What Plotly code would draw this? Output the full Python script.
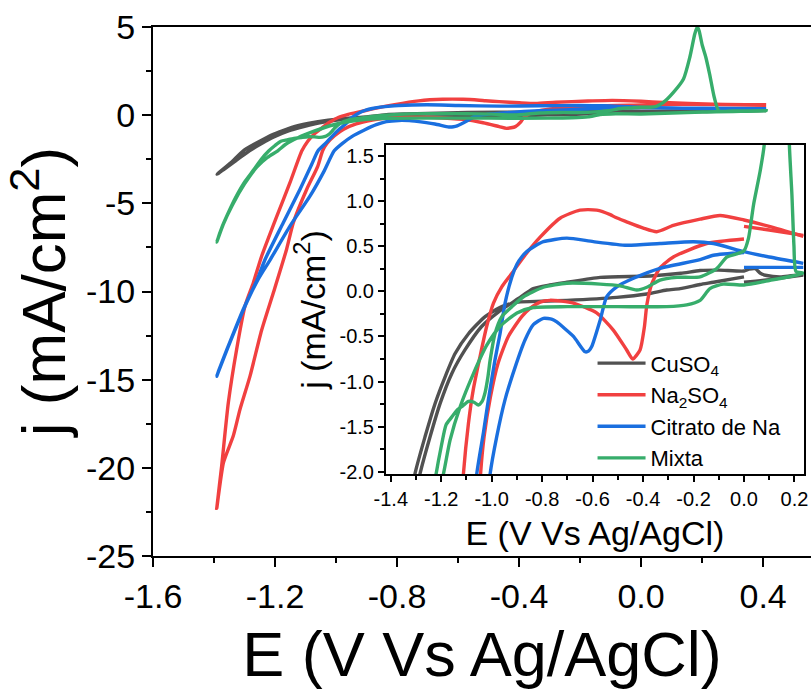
import plotly.graph_objects as go

# ---------------- data (E in V vs Ag/AgCl, j in mA/cm2) ----------------
# Shared loop for each series: from E=0 on the upper branch, down to the
# cathodic tip, and back along the lower branch to E=0.
cu_loop_E = [0.0, -0.1, -0.174, -0.25, -0.372, -0.57, -0.702, -0.77, -0.835, -0.894, -0.974, -1.04, -1.106, -1.158, -1.204, -1.244, -1.284, -1.33, -1.39,
             -1.345, -1.304, -1.264, -1.224, -1.185, -1.145, -1.092, -1.026, -0.96, -0.894, -0.8, -0.702, -0.504, -0.385, -0.306, -0.253, -0.174, -0.121, 0.0]
cu_loop_j = [0.225, 0.235, 0.23, 0.2, 0.17, 0.155, 0.1, 0.07, 0.03, -0.08, -0.23, -0.39, -0.65, -0.91, -1.24, -1.61, -2.02, -2.6, -3.35,
             -2.7, -2.02, -1.61, -1.24, -0.95, -0.69, -0.47, -0.28, -0.17, -0.12, -0.11, -0.1, -0.067, -0.03, 0.014, 0.03, 0.075, 0.1, 0.16]

na_loop_E = [0.0, -0.095, -0.174, -0.28, -0.346, -0.399, -0.465, -0.51, -0.53, -0.584, -0.65, -0.729, -0.808, -0.868, -0.92, -0.96, -0.993, -1.02, -1.046, -1.073, -1.092, -1.112, -1.151, -1.194, -1.244, -1.271, -1.298, -1.326, -1.353, -1.375, -1.391,
             -1.369, -1.337, -1.315, -1.282, -1.244, -1.206, -1.162, -1.14, -1.096, -1.06, -1.044, -1.03, -1.005, -0.975, -0.934, -0.881, -0.848, -0.808, -0.769, -0.676, -0.584, -0.518, -0.465, -0.441, -0.412, -0.395, -0.385, -0.366, -0.333, -0.28, -0.148, 0.0]
na_loop_j = [0.79, 0.84, 0.8, 0.73, 0.66, 0.7, 0.77, 0.82, 0.85, 0.9, 0.9, 0.81, 0.6, 0.4, 0.2, 0.05, -0.13, -0.39, -0.72, -1.09, -1.46, -2.02, -3.83, -5.72, -8.0, -9.5, -10.8, -13.3, -16.3, -19.9, -22.3,
             -19.7, -18.2, -16.7, -14.8, -12.2, -10.1, -7.6, -6.1, -4.2, -2.9, -2.02, -1.61, -1.17, -0.8, -0.5, -0.28, -0.19, -0.12, -0.1, -0.13, -0.24, -0.43, -0.65, -0.75, -0.65, -0.4, -0.15, 0.08, 0.26, 0.38, 0.53, 0.58]

ci_loop_E = [0.0, -0.121, -0.2, -0.333, -0.465, -0.597, -0.702, -0.795, -0.83, -0.861, -0.881, -0.9, -0.92, -0.947, -0.967, -0.987, -1.013, -1.033, -1.059, -1.08, -1.118, -1.173, -1.233, -1.26, -1.304, -1.358, -1.385, -1.391,
             -1.38, -1.355, -1.3, -1.255, -1.216, -1.151, -1.085, -1.04, -1.006, -0.98, -0.947, -0.907, -0.868, -0.835, -0.795, -0.76, -0.742, -0.676, -0.63, -0.615, -0.603, -0.57, -0.544, -0.504, -0.438, -0.333, -0.174, -0.121, 0.0]
ci_loop_j = [0.44, 0.53, 0.55, 0.53, 0.51, 0.55, 0.59, 0.55, 0.5, 0.44, 0.38, 0.3, 0.16, -0.13, -0.47, -0.76, -1.2, -1.57, -2.02, -2.8, -4.2, -6.1, -8.2, -9.4, -11.0, -13.3, -14.5, -14.8,
             -14.3, -13.2, -10.9, -9.3, -8.2, -6.29, -4.58, -3.2, -2.02, -1.61, -1.2, -0.84, -0.54, -0.37, -0.3, -0.31, -0.34, -0.5, -0.67, -0.66, -0.61, -0.32, -0.06, 0.05, 0.144, 0.255, 0.35, 0.4, 0.43]

mx_loop_E = [0.0, -0.035, -0.068, -0.107, -0.174, -0.266, -0.333, -0.385, -0.425, -0.491, -0.57, -0.702, -0.795, -0.874, -0.92, -0.96, -0.987, -1.006, -1.015, -1.026, -1.038, -1.053, -1.07, -1.092, -1.115, -1.138, -1.16, -1.181, -1.2, -1.22, -1.245, -1.27, -1.3, -1.33, -1.358, -1.375, -1.391,
             -1.37, -1.34, -1.3, -1.26, -1.225, -1.191, -1.165, -1.125, -1.072, -1.02, -0.967, -0.9, -0.835, -0.7, -0.5, -0.306, -0.227, -0.174, -0.135, -0.083, 0.0]
mx_loop_j = [0.45, 0.41, 0.38, 0.255, 0.16, 0.155, 0.125, 0.045, 0.014, 0.06, 0.08, 0.09, 0.045, -0.06, -0.17, -0.28, -0.47, -0.76, -0.95, -1.12, -1.22, -1.26, -1.23, -1.22, -1.27, -1.32, -1.4, -1.48, -1.72, -2.02, -2.5, -3.1, -3.8, -4.7, -5.72, -6.4, -7.2,
             -6.2, -5.1, -3.9, -2.95, -2.4, -2.02, -1.65, -1.28, -0.91, -0.6, -0.39, -0.24, -0.18, -0.17, -0.17, -0.17, -0.15, -0.1, 0.03, 0.08, 0.07]

# Anodic ends (E > 0) as drawn in the main plot
cu_main_up_E = [0.41, 0.3, 0.2, 0.1];  cu_main_up_j = [0.28, 0.26, 0.24, 0.235]
cu_main_lo_E = [0.2, 0.41];            cu_main_lo_j = [0.2, 0.26]
na_main_up_E = [0.41, 0.237, 0.073];   na_main_up_j = [0.59, 0.62, 0.72]
na_main_lo_E = [0.1, 0.25, 0.41];      na_main_lo_j = [0.62, 0.6, 0.56]
ci_main_up_E = [0.41, 0.2];            ci_main_up_j = [0.36, 0.4]
ci_main_lo_E = [0.2, 0.41];            ci_main_lo_j = [0.37, 0.33]
mx_main_up_E = [0.41, 0.3, 0.255, 0.24, 0.225, 0.212, 0.2, 0.19, 0.184, 0.176, 0.16, 0.139, 0.106, 0.073, 0.05, 0.03]
mx_main_up_j = [0.25, 0.24, 0.24, 1.0, 2.3, 3.3, 4.0, 4.8, 5.0, 4.6, 3.3, 2.05, 1.29, 0.72, 0.5, 0.45]
mx_main_lo_E = [0.2, 0.41];            mx_main_lo_j = [0.18, 0.25]

# Anodic ends (E > 0) as drawn in the inset (None = break in the record)
cu_ins_up_E = [0.235, 0.143, 0.09, 0.065, 0.045, 0.02];  cu_ins_up_j = [0.19, 0.16, 0.175, 0.2, 0.25, 0.245]
cu_ins_lo_E = [None, 0.0, 0.1, 0.235];                    cu_ins_lo_j = [None, 0.1, 0.13, 0.18]
na_ins_up_E = [0.235, 0.1];                               na_ins_up_j = [0.61, 0.72]
na_ins_lo_E = [None, 0.0, 0.1, 0.235];                    na_ins_lo_j = [None, 0.72, 0.68, 0.62]
ci_ins_up_E = [0.235, 0.1];                               ci_ins_up_j = [0.31, 0.38]
ci_ins_lo_E = [None, 0.0, 0.235];                         ci_ins_lo_j = [None, 0.265, 0.265]
mx_ins_up_E = [0.235, 0.206, 0.198, 0.19, 0.18, 0.175, 0.09, 0.08, 0.064, 0.038, 0.018]
mx_ins_up_j = [0.2, 0.22, 0.51, 1.07, 1.62, 2.5, 2.5, 1.62, 1.33, 0.96, 0.59]
mx_ins_lo_E = [0.1, 0.235];                               mx_ins_lo_j = [0.12, 0.2]

names = ["CuSO<sub>4</sub>", "Na<sub>2</sub>SO<sub>4</sub>", "Citrato de Na", "Mixta"]
colors = ["#515151", "#F14040", "#1A6FDF", "#37AD6B"]

main_xticks = [-1.6, -1.2, -0.8, -0.4, 0.0, 0.4]
main_xtext = ["-1.6", "-1.2", "-0.8", "-0.4", "0.0", "0.4"]
main_yticks = [5, 0, -5, -10, -15, -20, -25]
main_ytext = ["5", "0", "-5", "-10", "-15", "-20", "-25"]
ins_xticks = [-1.4, -1.2, -1.0, -0.8, -0.6, -0.4, -0.2, 0.0, 0.2]
ins_xtext = ["-1.4", "-1.2", "-1.0", "-0.8", "-0.6", "-0.4", "-0.2", "0.0", "0.2"]
ins_yticks = [1.5, 1.0, 0.5, 0.0, -0.5, -1.0, -1.5, -2.0]
ins_ytext = ["1.5", "1.0", "0.5", "0.0", "-0.5", "-1.0", "-1.5", "-2.0"]

series = [
    (cu_loop_E, cu_loop_j, cu_main_up_E, cu_main_up_j, cu_main_lo_E, cu_main_lo_j, cu_ins_up_E, cu_ins_up_j, cu_ins_lo_E, cu_ins_lo_j),
    (na_loop_E, na_loop_j, na_main_up_E, na_main_up_j, na_main_lo_E, na_main_lo_j, na_ins_up_E, na_ins_up_j, na_ins_lo_E, na_ins_lo_j),
    (ci_loop_E, ci_loop_j, ci_main_up_E, ci_main_up_j, ci_main_lo_E, ci_main_lo_j, ci_ins_up_E, ci_ins_up_j, ci_ins_lo_E, ci_ins_lo_j),
    (mx_loop_E, mx_loop_j, mx_main_up_E, mx_main_up_j, mx_main_lo_E, mx_main_lo_j, mx_ins_up_E, mx_ins_up_j, mx_ins_lo_E, mx_ins_lo_j),
]

FONT = "Arial, Liberation Sans, sans-serif"
LW = 3.4
fig = go.Figure()

for (lE, lj, muE, muj, mlE, mlj, iuE, iuj, ilE, ilj), name, col in zip(series, names, colors):
    fig.add_trace(go.Scatter(x=muE + lE + mlE, y=muj + lj + mlj, mode="lines",
                             line=dict(color=col, width=LW, shape="spline", smoothing=0.6),
                             showlegend=False, xaxis="x", yaxis="y", hoverinfo="skip"))
for (lE, lj, muE, muj, mlE, mlj, iuE, iuj, ilE, ilj), name, col in zip(series, names, colors):
    fig.add_trace(go.Scatter(x=iuE + lE + ilE, y=iuj + lj + ilj, mode="lines", name=name,
                             line=dict(color=col, width=LW, shape="spline", smoothing=0.6),
                             showlegend=True, xaxis="x2", yaxis="y2", hoverinfo="skip"))

fig.update_layout(
    template="none",
    width=811, height=692,
    margin=dict(l=153, r=0, t=27, b=136),
    paper_bgcolor="white", plot_bgcolor="white",
    font=dict(family=FONT, color="black"),
    showlegend=True,
    legend=dict(x=0.668, y=0.404, xanchor="left", yanchor="top",
                bgcolor="rgba(0,0,0,0)", borderwidth=0, itemwidth=48,
                font=dict(size=22, family=FONT, color="black"),
                tracegroupgap=0),
    xaxis=dict(domain=[0, 1], range=[-1.6, 0.557], anchor="y",
               tickmode="array", tickvals=main_xticks, ticktext=main_xtext,
               ticks="outside", ticklen=9, tickwidth=2, tickcolor="black",
               showline=True, linewidth=2, linecolor="black", mirror=True,
               showgrid=False, zeroline=False, automargin=False,
               tickfont=dict(size=34, family=FONT),
               minor=dict(ticks="outside", ticklen=5, tickwidth=2, tickcolor="black",
                          tickmode="linear", tick0=-1.6, dtick=0.2, showgrid=False),
               title=dict(text="E (V Vs Ag/AgCl)", font=dict(size=63, family=FONT), standoff=18)),
    yaxis=dict(domain=[0, 1], range=[-25, 5], anchor="x",
               tickmode="array", tickvals=main_yticks, ticktext=main_ytext,
               ticks="outside", ticklen=9, tickwidth=2, tickcolor="black",
               showline=True, linewidth=2, linecolor="black", mirror=False,
               showgrid=False, zeroline=False, automargin=False,
               tickfont=dict(size=34, family=FONT),
               minor=dict(ticks="outside", ticklen=5, tickwidth=2, tickcolor="black",
                          tickmode="linear", tick0=0, dtick=2.5, showgrid=False),
               title=dict(text="j (mA/cm<sup>2</sup>)", font=dict(size=62, family=FONT), standoff=6)),
    xaxis2=dict(domain=[0.3537, 0.9894], range=[-1.42, 0.238], anchor="y2",
                tickmode="array", tickvals=ins_xticks, ticktext=ins_xtext,
                ticks="outside", ticklen=6, tickwidth=1.5, tickcolor="black",
                showline=True, linewidth=1.5, linecolor="black", mirror=True,
                showgrid=False, zeroline=False, automargin=False,
                tickfont=dict(size=20, family=FONT),
                minor=dict(ticks="outside", ticklen=4, tickwidth=1.5, tickcolor="black",
                           tickmode="linear", tick0=-1.4, dtick=0.1, showgrid=False),
                title=dict(text="E (V Vs Ag/AgCl)", font=dict(size=34, family=FONT), standoff=12)),
    yaxis2=dict(domain=[0.155, 0.777], range=[-2.025, 1.622], anchor="x2",
                tickmode="array", tickvals=ins_yticks, ticktext=ins_ytext,
                ticks="outside", ticklen=6, tickwidth=1.5, tickcolor="black",
                showline=True, linewidth=1.5, linecolor="black", mirror=True,
                showgrid=False, zeroline=False, automargin=False,
                tickfont=dict(size=20, family=FONT),
                minor=dict(ticks="outside", ticklen=4, tickwidth=1.5, tickcolor="black",
                           tickmode="linear", tick0=0, dtick=0.25, showgrid=False),
                title=dict(text="j (mA/cm<sup>2</sup>)", font=dict(size=34, family=FONT), standoff=4)),
)

fig.write_html("out.html")
